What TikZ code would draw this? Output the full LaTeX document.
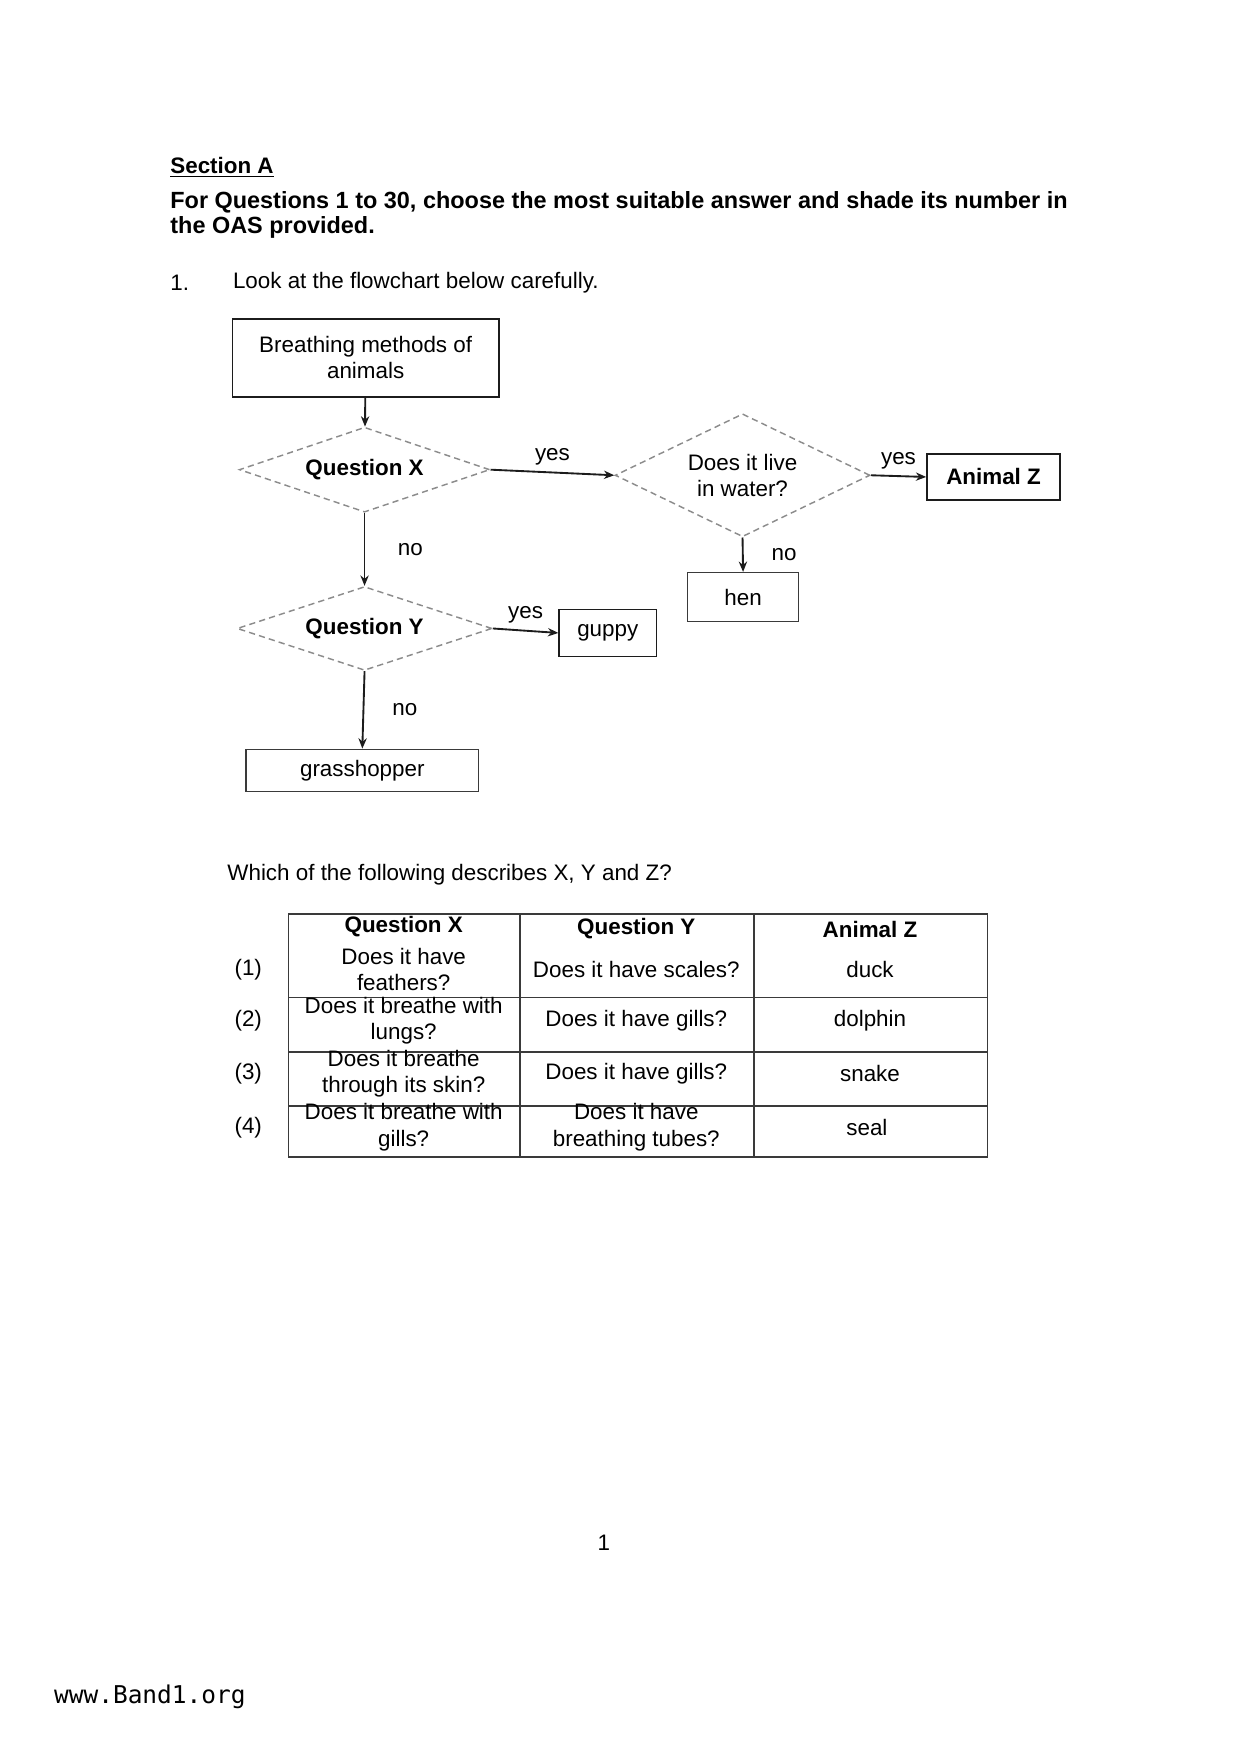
\documentclass[tikz,border=0pt]{standalone}
\usepackage{fontspec}
\setmainfont{Liberation Sans}
\newfontfamily\webfont{DejaVu Sans Mono}
\usepackage{tikz}
\usetikzlibrary{shapes.geometric,positioning,arrows.meta}
\definecolor{ink}{HTML}{1c1c1c}
\definecolor{dashgrey}{HTML}{8c8c8c}
\definecolor{rulegrey}{HTML}{3a3a3a}
\newcommand{\bodyfont}{\fontsize{10.8}{12.6}\selectfont}
\tikzset{
  box/.style={draw=ink, line width=0.8pt, inner sep=0pt, align=center, font=\bodyfont},
  choice/.style={diamond, draw=dashgrey, densely dashed, line width=0.7pt, inner sep=0pt, align=center, font=\bodyfont},
  flow/.style={-{Stealth[length=5pt,width=4pt]}, line width=0.9pt, draw=ink},
  lbl/.style={font=\bodyfont, inner sep=0pt},
  cell/.style={font=\bodyfont, align=center, inner sep=0pt}
}
\begin{document}
\begin{tikzpicture}[x=0.01895cm, y=-0.01895cm]
\useasboundingbox (0,0) rectangle (1108,1568.5);
% Heading
\node[font=\bodyfont\bfseries, anchor=west, inner sep=0pt] (sect) at (152,150) {\underline{Section A}};
\node[font=\fontsize{11.3}{13}\selectfont\bfseries, anchor=west, inner sep=0pt] (instr1) at (152,181) {For Questions 1 to 30, choose the most suitable answer and shade its number in};
\node[font=\fontsize{11.3}{13}\selectfont\bfseries, anchor=west, inner sep=0pt] (instr2) at (152,203) {the OAS provided.};
\node[lbl, anchor=west] (qnum) at (152,253) {1.};
\node[lbl, anchor=west] (qtext) at (208,253) {Look at the flowchart below carefully.};
% Flowchart
\node[box, minimum width=238*0.01895cm, minimum height=70*0.01895cm] (start) at (327,320) {Breathing methods of\\animals};
\node[choice, aspect=2.95, minimum width=224*0.01895cm, minimum height=76*0.01895cm, font=\bodyfont\bfseries] (qx) at (326,420) {Question X};
\node[choice, aspect=2.07, minimum width=228*0.01895cm, minimum height=110*0.01895cm] (water) at (664,425) {Does it live\\in water?};
\node[box, minimum width=119*0.01895cm, minimum height=41*0.01895cm, font=\bodyfont\bfseries] (animz) at (888.5,426.5) {Animal Z};
\node[box, draw=rulegrey, line width=0.6pt, minimum width=99*0.01895cm, minimum height=44*0.01895cm] (hen) at (664.5,534) {hen};
\node[choice, aspect=3.04, minimum width=228*0.01895cm, minimum height=75*0.01895cm, font=\bodyfont\bfseries] (qy) at (326,562) {Question Y};
\node[box, minimum width=87*0.01895cm, minimum height=42*0.01895cm] (guppy) at (543.5,566) {guppy};
\node[box, draw=rulegrey, line width=0.6pt, minimum width=208*0.01895cm, minimum height=38*0.01895cm] (grass) at (324,689) {grasshopper};
\draw[flow] (start) -- (qx);
\draw[flow] (qx.east) -- node[lbl, above=3pt] (yes1) {yes} (water.west);
\draw[flow] (water.east) -- node[lbl, above=3pt] (yes2) {yes} (animz.west);
\draw[flow] (water.south) -- node[lbl, right=25*0.01895cm] (no2) {no} (hen.north);
\draw[flow] (qx.south) -- node[lbl, right=29*0.01895cm] (no1) {no} (qy.north);
\draw[flow] (qy.east) -- node[lbl, above=3pt] (yes3) {yes} (guppy.west);
\draw[flow] (qy.south) -- node[lbl, right=25*0.01895cm] (no3) {no} (grass.north);
% Question and table
\node[lbl, anchor=west] (ask) at (203,782) {Which of the following describes X, Y and Z?};
\draw[rulegrey, line width=0.9pt] (258,817) rectangle (883,1035);
\foreach \y in {892,941,989} {
  \draw[rulegrey, line width=0.9pt] (258,\y) -- (883,\y);
}
\foreach \x in {465,674} {
  \draw[rulegrey, line width=0.9pt] (\x,817) -- (\x,1035);
}
\node[cell, font=\bodyfont\bfseries] (hx) at (361,829) {Question X};
\node[cell, font=\bodyfont\bfseries] (hy) at (569,830) {Question Y};
\node[cell, font=\bodyfont\bfseries] (hz) at (778,831) {Animal Z};
\foreach \i/\yy/\qx/\qy/\an in {
  1/867/{Does it have\\feathers?}/{Does it have scales?}/duck,
  2/913/{Does it breathe with\\lungs?}/{Does it have gills?}/dolphin,
  3/960/{Does it breathe\\through its skin?}/{Does it have gills?}/snake,
  4/1008/{Does it breathe with\\gills?}/{Does it have\\breathing tubes?}/seal
} {
  \node[cell] (opt\i) at (222,\yy) {(\i)};
  \node[cell] (cx\i) at (361,\yy) {\qx};
  \node[cell] (cy\i) at (569,\yy) {\qy};
  \node[cell] (cz\i) at (778,\yy) {\an};
}
% Footer
\node[lbl] (pageno) at (540,1380) {1};
\node[font=\webfont\fontsize{11.8}{14}\selectfont, anchor=west, inner sep=0pt] (site) at (48,1517) {www.Band1.org};
\end{tikzpicture}
\end{document}
